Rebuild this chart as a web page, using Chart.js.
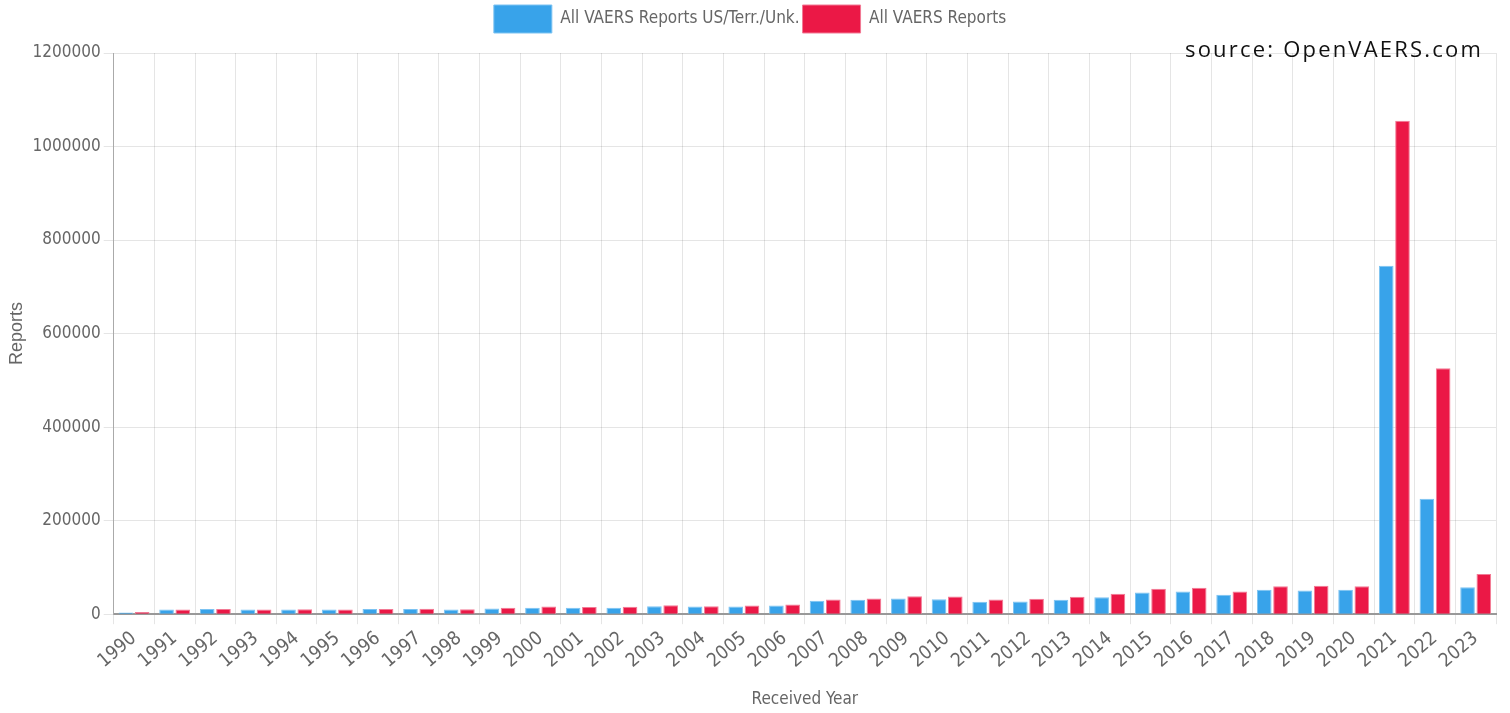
<!DOCTYPE html>
<html>
<head>
<meta charset="utf-8">
<script src="https://cdn.jsdelivr.net/npm/chart.js@4"></script>
<style>
  html, body { margin: 0; padding: 0; background: #fff; }
  #wrap { position: relative; width: 1510px; height: 713px; }
  #source {
    position: absolute; right: 27px; top: 34px;
    font-family: "Open Sans", sans-serif; font-size: 22px; letter-spacing: 2.2px; color: #111;
    line-height: 28px;
  }
</style>
</head>
<body>
<div id="wrap">
  <canvas id="chart" width="1510" height="713"></canvas>
  <div id="source">source: OpenVAERS.com</div>
</div>
<script>
// Data
const years = ['1990', '1991', '1992', '1993', '1994', '1995', '1996', '1997', '1998', '1999',
  '2000', '2001', '2002', '2003', '2004', '2005', '2006', '2007', '2008', '2009',
  '2010', '2011', '2012', '2013', '2014', '2015', '2016', '2017', '2018', '2019',
  '2020', '2021', '2022', '2023'];

const usReports = [3500, 9800, 11000, 10000, 10000, 10000, 11000, 11000, 10000, 12000,
  14000, 13500, 14000, 17000, 16400, 16400, 18500, 28500, 30700, 33500,
  32000, 26400, 27100, 30700, 36400, 46300, 48500, 41400, 52000, 50600,
  52000, 745000, 247000, 57600];

const allReports = [4500, 10000, 11000, 10000, 10500, 10000, 11000, 11500, 10500, 13500,
  16500, 15500, 16000, 19000, 17000, 18500, 20500, 31400, 33500, 38500,
  37800, 31400, 32800, 37100, 43500, 54200, 56300, 48500, 59900, 60600,
  59900, 1055000, 526000, 86000];

const yTicks = [0, 200000, 400000, 600000, 800000, 1000000, 1200000];

const font = 'DejaVu Sans Condensed, Liberation Sans, Arial, sans-serif';
const grey = '#666';

// Mezera pod legendou
const legendGap = {
  id: 'legendGap',
  beforeInit(chart) {
    const fit = chart.legend.fit;
    chart.legend.fit = function () {
      fit.bind(chart.legend)();
      this.height += 10;
    };
  },
};

new Chart(document.getElementById('chart'), {
  type: 'bar',
  data: {
    labels: years,
    datasets: [{
      label: 'All VAERS Reports US/Terr./Unk.',
      data: usReports,
      backgroundColor: '#38a3ea',
      borderColor: '#7cc3f2',
      borderWidth: 1,
    }, {
      label: 'All VAERS Reports',
      data: allReports,
      backgroundColor: '#eb1846',
      borderColor: '#f27a95',
      borderWidth: 1,
    }],
  },
  options: {
    responsive: false,
    animation: false,
    layout: { padding: { left: 4, right: 14, top: 2, bottom: 3 } },
    plugins: {
      legend: {
        position: 'top',
        labels: {
          boxWidth: 58,
          boxHeight: 28,
          color: grey,
          font: { family: font, size: 17 },
          padding: 3,
        },
      },
      tooltip: { enabled: false },
    },
    scales: {
      x: {
        grid: { color: 'rgba(0,0,0,0.1)', tickLength: 10 },
        border: { color: '#999', width: 2 },
        ticks: {
          color: grey,
          font: { family: font, size: 19 },
          minRotation: 40,
          maxRotation: 40,
          autoSkip: false,
        },
        title: {
          display: true,
          text: 'Received Year',
          color: grey,
          font: { family: font, size: 17 },
          padding: { top: 14, bottom: 0 },
        },
      },
      y: {
        min: 0,
        max: 1200000,
        afterBuildTicks: axis => { axis.ticks = yTicks.map(v => ({ value: v })); },
        grid: { color: 'rgba(0,0,0,0.1)', tickLength: 10 },
        border: { color: '#aaa', width: 1 },
        ticks: {
          color: grey,
          font: { family: font, size: 17 },
          callback: v => String(v),
        },
        title: {
          display: true,
          text: 'Reports',
          color: grey,
          font: { family: 'Liberation Sans, Arial, sans-serif', size: 18 },
          padding: { top: 2, bottom: 2 },
        },
      },
    },
  },
  plugins: [legendGap],
});
</script>
</body>
</html>
